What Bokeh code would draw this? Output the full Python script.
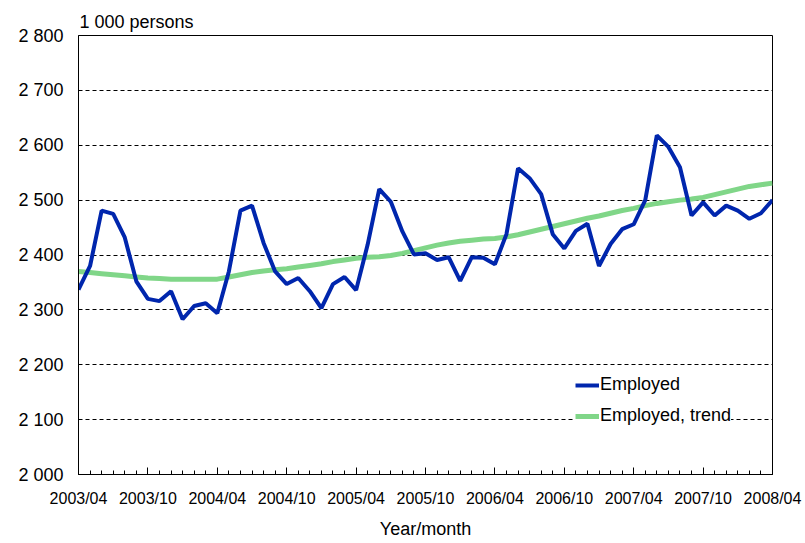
from bokeh.plotting import figure
from bokeh.models import Range1d, FixedTicker, Legend, LegendItem, Title
from bokeh.embed import file_html
from bokeh.resources import INLINE

# ---- data ----
tick_labels = ["2003/04", "2003/10", "2004/04", "2004/10", "2005/04", "2005/10",
               "2006/04", "2006/10", "2007/04", "2007/10", "2008/04"]
y_tick_values = [2000, 2100, 2200, 2300, 2400, 2500, 2600, 2700, 2800]
y_tick_labels = ["2 000", "2 100", "2 200", "2 300", "2 400", "2 500", "2 600", "2 700", "2 800"]

employed = [2337, 2380, 2481, 2475, 2432, 2352, 2320, 2316, 2334, 2283, 2307, 2312,
            2294, 2370, 2481, 2490, 2422, 2370, 2347, 2358, 2334, 2303, 2347, 2360,
            2336, 2419, 2520, 2497, 2443, 2401, 2403, 2391, 2396, 2353, 2396, 2395,
            2383, 2438, 2558, 2540, 2511, 2438, 2412, 2444, 2457, 2380, 2420, 2447,
            2456, 2500, 2618, 2597, 2560, 2472, 2496, 2472, 2490, 2481, 2466, 2476,
            2500]
trend = [2370, 2368, 2366, 2364, 2362, 2360, 2358, 2357, 2356, 2356, 2356, 2356,
         2356, 2360, 2364, 2368, 2371, 2373, 2375, 2378, 2381, 2384, 2388, 2391,
         2394, 2396, 2397, 2399, 2403, 2408, 2413, 2418, 2422, 2425, 2427, 2429,
         2430, 2433, 2437, 2442, 2447, 2452, 2457, 2462, 2467, 2471, 2476, 2481,
         2485, 2490, 2494, 2497, 2500, 2502, 2505, 2510, 2515, 2520, 2525, 2528,
         2531]
month_index = list(range(len(employed)))
major_step = 6

FONT = "Liberation Sans"

p = figure(width=805, height=543, output_backend="svg", toolbar_location=None,
           x_range=Range1d(0, len(employed) - 1), y_range=Range1d(2000, 2800),
           min_border_left=78, min_border_right=33, min_border_top=35,
           min_border_bottom=69, background_fill_color="white",
           border_fill_color="white")

p.outline_line_color = "black"
p.outline_line_width = 1

r_trend = p.line(month_index, trend, line_color="#80d688", line_width=5)
r_emp = p.line(month_index, employed, line_color="#0026ad", line_width=4)

# x axis
major_ticks = month_index[::major_step]
p.xaxis.ticker = FixedTicker(ticks=major_ticks, minor_ticks=month_index)
p.xaxis.major_label_overrides = {t: lab for t, lab in zip(major_ticks, tick_labels)}
p.xaxis.major_tick_in = 7
p.xaxis.major_tick_out = 0
p.xaxis.minor_tick_in = 4
p.xaxis.minor_tick_out = 0
p.xaxis.major_tick_line_color = "black"
p.xaxis.minor_tick_line_color = "black"
p.xaxis.axis_line_color = "black"
p.xaxis.major_label_standoff = 15
p.xaxis.major_label_text_font = FONT
p.xaxis.major_label_text_font_size = "16px"
p.xaxis.major_label_text_color = "black"
p.xaxis.axis_label = "Year/month"
p.xaxis.axis_label_standoff = 9
p.xaxis.axis_label_text_font = FONT
p.xaxis.axis_label_text_font_size = "18px"
p.xaxis.axis_label_text_font_style = "normal"
p.xaxis.axis_label_text_color = "black"

# y axis
p.yaxis.ticker = FixedTicker(ticks=y_tick_values)
p.yaxis.major_label_overrides = {v: lab for v, lab in zip(y_tick_values, y_tick_labels)}
p.yaxis.major_tick_in = 0
p.yaxis.major_tick_out = 0
p.yaxis.minor_tick_line_color = None
p.yaxis.axis_line_color = "black"
p.yaxis.major_label_standoff = 15
p.yaxis.major_label_text_font = FONT
p.yaxis.major_label_text_font_size = "18px"
p.yaxis.major_label_text_color = "black"

p.xgrid.visible = False
p.ygrid.grid_line_color = "black"
p.ygrid.grid_line_dash = "4 3"
p.ygrid.grid_line_width = 1

unit = Title(text="1 000 persons", align="left", offset=1, standoff=7,
             text_font=FONT, text_font_size="18px", text_font_style="normal",
             text_color="black")
p.add_layout(unit, "above")

legend = Legend(items=[LegendItem(label="Employed", renderers=[r_emp]),
                       LegendItem(label="Employed, trend", renderers=[r_trend])],
                location=(497, 48), orientation="vertical",
                background_fill_color="white", background_fill_alpha=1.0,
                border_line_color=None, padding=6, margin=0, spacing=10,
                glyph_width=24, glyph_height=20, label_height=20,
                label_standoff=1, label_text_font=FONT,
                label_text_font_size="18px", label_text_color="black")
p.add_layout(legend)

open("out.html", "w").write(file_html(p, INLINE))
